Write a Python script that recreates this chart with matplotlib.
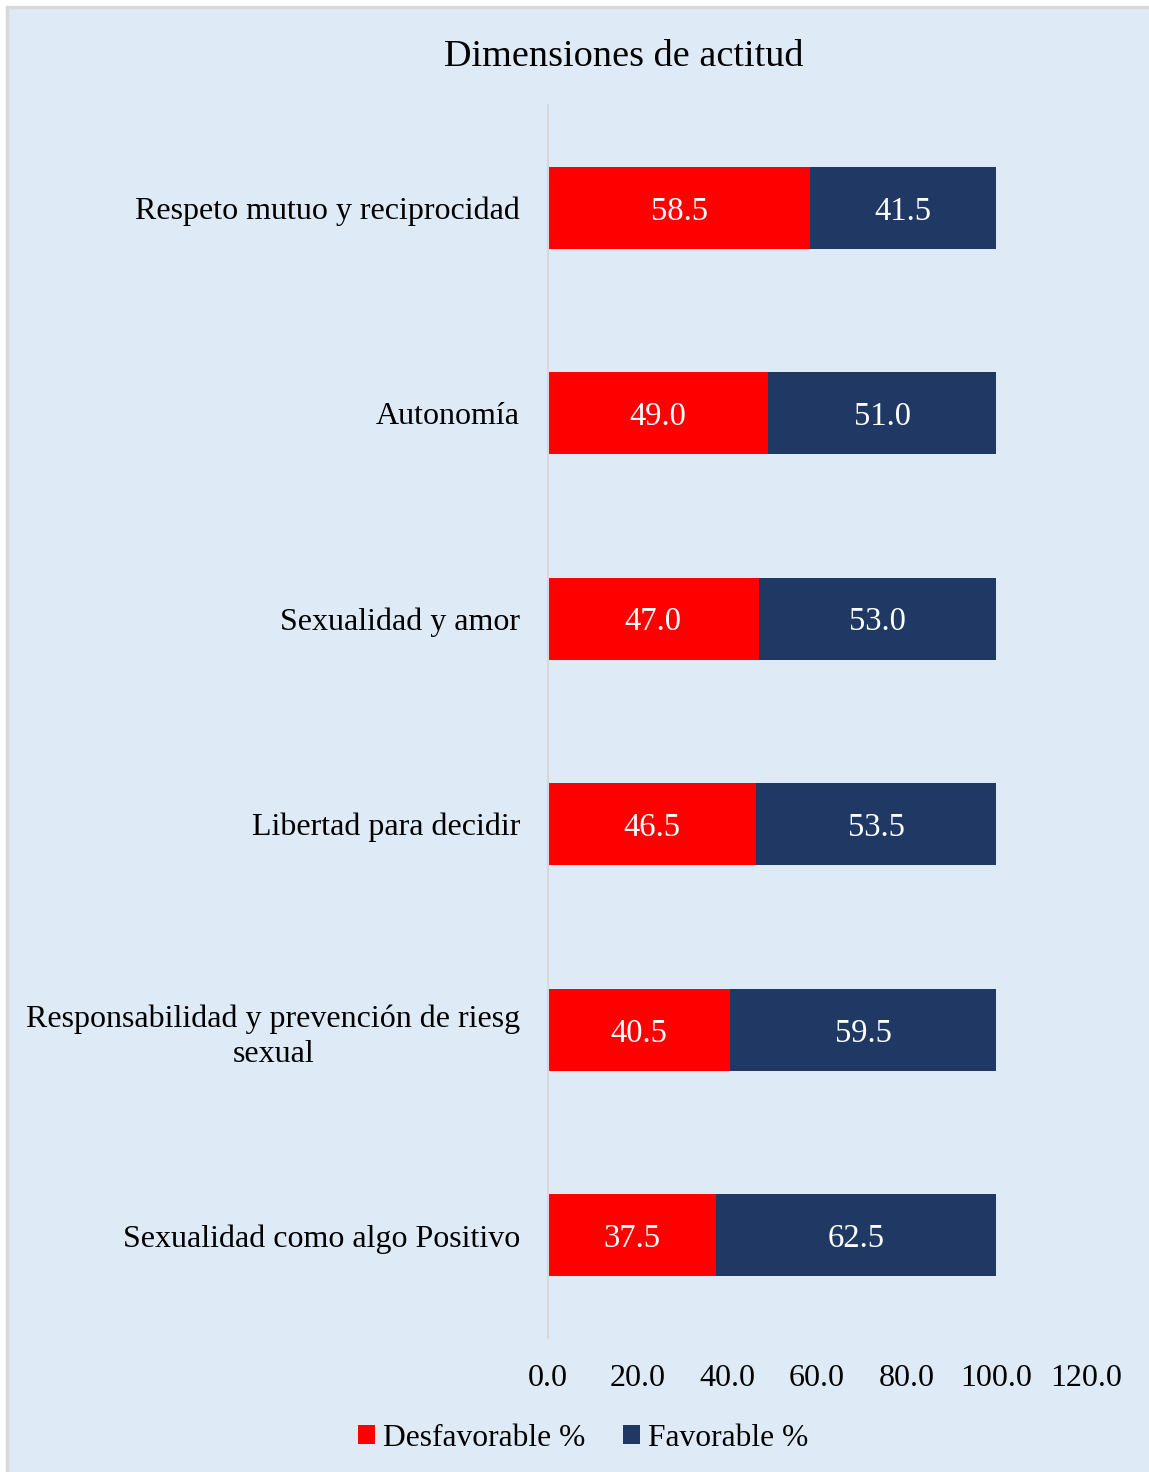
import matplotlib
matplotlib.use("Agg")
import matplotlib.pyplot as plt
from matplotlib.patches import Rectangle, Patch

categories = [
    "Respeto mutuo y reciprocidad",
    "Autonomía",
    "Sexualidad y amor",
    "Libertad para decidir",
    "Responsabilidad y prevención de riesg\nsexual",
    "Sexualidad como algo Positivo",
]
desfavorable = [58.5, 49.0, 47.0, 46.5, 40.5, 37.5]
favorable = [41.5, 51.0, 53.0, 53.5, 59.5, 62.5]
xticks = [0, 20, 40, 60, 80, 100, 120]
series_names = ["Desfavorable %", "Favorable %"]

BG = "#DEEAF6"
RED = "#FF0000"
NAVY = "#1F3864"
plt.rcParams["font.family"] = ["Liberation Serif", "DejaVu Serif"]

W, H = 1149, 1472
fig = plt.figure(figsize=(W / 100, H / 100), dpi=100)
fig.patch.set_facecolor("white")
fig.patches.append(Rectangle((7 / W, -0.01), 1.02, 1 - 7 / H + 0.01, transform=fig.transFigure,
                             facecolor=BG, edgecolor="#D9D9D9", linewidth=2.5, zorder=-10))

ax = fig.add_axes([548 / W, 1 - 1338 / H, (1086 - 548) / W, (1338 - 105) / H])
ax.set_facecolor("none")

y = list(range(len(categories)))
ax.barh(y, desfavorable, height=0.4, color=RED, label=series_names[0])
ax.barh(y, favorable, left=desfavorable, height=0.4, color=NAVY, label=series_names[1])

for i in y:
    ax.text(desfavorable[i] / 2, i, f"{desfavorable[i]:.1f}", ha="center", va="center_baseline",
            color="white", fontsize=23.5)
    ax.text(desfavorable[i] + favorable[i] / 2, i, f"{favorable[i]:.1f}", ha="center",
            va="center_baseline", color="white", fontsize=23.5)

ax.set_xlim(0, 120)
ax.set_ylim(len(categories) - 0.5, -0.5)
ax.set_xticks(xticks)
ax.set_xticklabels([f"{v:.1f}" for v in xticks], fontsize=23)
ax.set_yticks(y)
ax.set_yticklabels(categories, fontsize=23, linespacing=1.3)
ax.tick_params(axis="both", length=0)
ax.tick_params(axis="x", pad=19)
ax.tick_params(axis="y", pad=20)
for s in ["top", "right", "bottom"]:
    ax.spines[s].set_visible(False)
ax.spines["left"].set_color("#D9D9D9")
ax.spines["left"].set_linewidth(1.5)
for lbl in ax.get_yticklabels():
    lbl.set_multialignment("center")

fig.text(624 / W, 1 - 57 / H, "Dimensiones de actitud", ha="center", va="center", fontsize=27.5)

handles = [Patch(facecolor=RED), Patch(facecolor=NAVY)]
fig.legend(handles, series_names, loc="center", bbox_to_anchor=(583 / W, 1 - 1438 / H),
           ncol=2, frameon=False, fontsize=22.7, handlelength=0.55, handleheight=0.55,
           handletextpad=0.25, columnspacing=1.18)

fig.savefig("out.png", dpi=100, facecolor=fig.get_facecolor())
